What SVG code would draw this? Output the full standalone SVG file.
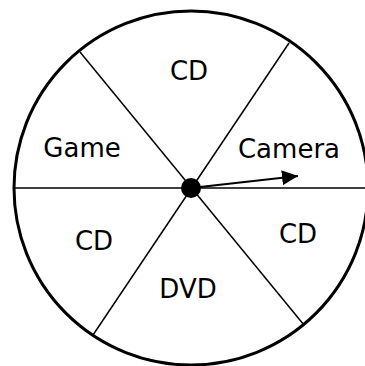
<svg xmlns="http://www.w3.org/2000/svg" width="365" height="366" viewBox="0 0 365 366">
<style>
.lbl{font-family:"DejaVu Sans",sans-serif;font-size:26px;fill:#000;text-anchor:middle}
.div{stroke:#000;stroke-width:1.5;fill:none}
</style>
<defs>
<marker id="ah" markerWidth="16" markerHeight="15" refX="16" refY="7.5" orient="auto" markerUnits="userSpaceOnUse">
<path d="M0,0 L16,7.5 L0,15 Z" fill="#000"/>
</marker>
</defs>
<rect width="365" height="366" fill="#fff"/>
<g id="spinner">
<circle cx="191" cy="188" r="177" fill="#fff" stroke="#000" stroke-width="3"/>
</g>
<g id="connectors">
<line class="div" x1="13" y1="188" x2="369" y2="188"/>
<line class="div" x1="80" y1="52" x2="304" y2="325"/>
<line class="div" x1="289" y1="43" x2="93" y2="335"/>
<line x1="191" y1="188" x2="298" y2="176" stroke="#000" stroke-width="2" marker-end="url(#ah)"/>
</g>
<g id="hub"><circle cx="191" cy="188" r="10" fill="#000"/></g>
<g id="cd-top"><text class="lbl" x="189" y="80">CD</text></g>
<g id="game"><text class="lbl" x="82" y="157">Game</text></g>
<g id="camera"><text class="lbl" x="289" y="158">Camera</text></g>
<g id="cd-left"><text class="lbl" x="94" y="250">CD</text></g>
<g id="cd-right"><text class="lbl" x="298" y="243">CD</text></g>
<g id="dvd"><text class="lbl" x="188" y="298">DVD</text></g>
</svg>
